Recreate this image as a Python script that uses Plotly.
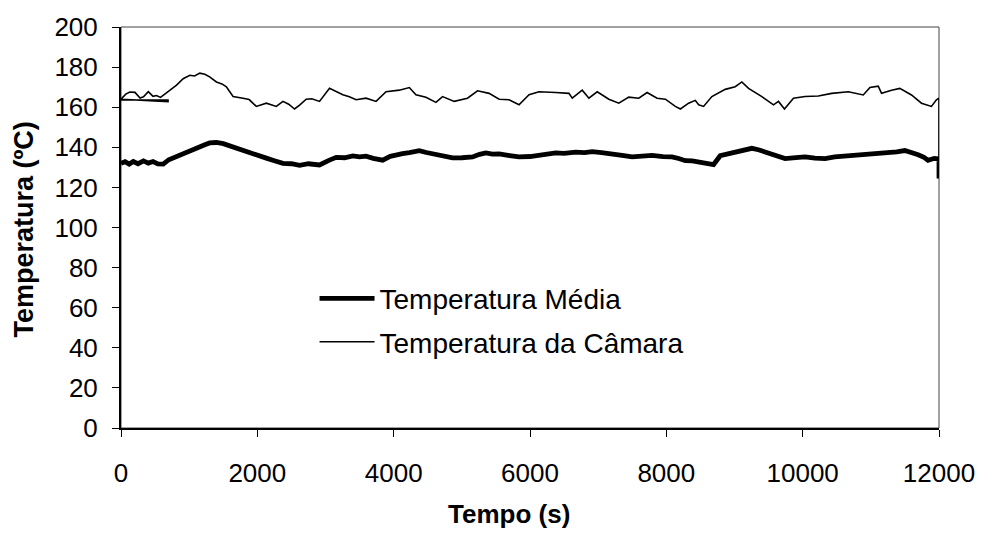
import plotly.graph_objects as go

# Temperatura da Câmara (thin line)
cam_t = [0, 690, 690, 0, 70, 130, 205, 280, 330, 400, 470, 520, 580, 645, 717, 815, 912, 1010, 1080,
         1156, 1230, 1300, 1400, 1480, 1546, 1644, 1790, 1880, 1985, 2132, 2278, 2376, 2460, 2546,
         2620, 2717, 2800, 2912, 3059, 3150, 3254, 3350, 3449, 3595, 3742, 3888, 4083, 4230, 4327,
         4473, 4620, 4717, 4888, 5083, 5230, 5400, 5547, 5693, 5839, 5986, 6132, 6376, 6571, 6620,
         6766, 6864, 6986, 7157, 7303, 7449, 7596, 7718, 7864, 7986, 8132, 8206, 8327, 8425, 8474,
         8546, 8668, 8864, 9010, 9108, 9206, 9401, 9572, 9645, 9733, 9865, 10035, 10230, 10426,
         10670, 10889, 10987, 11109, 11157, 11304, 11425, 11596, 11743, 11889, 11962, 12000, 12000]
cam_v = [163.6, 163.6, 162.8, 164.0, 166.5, 167.6, 167.4, 164.6, 165.2, 167.7, 165.4, 165.8, 164.9,
         166.6, 168.5, 171.0, 174.2, 175.9, 175.6, 177.0, 176.4, 175.1, 172.6, 171.6, 170.2, 165.3,
         164.5, 163.8, 160.4, 162.0, 160.4, 162.9, 161.5, 159.1, 161.0, 164.0, 164.2, 162.9, 169.4,
         167.8, 166.2, 165.2, 163.7, 164.5, 162.9, 167.7, 168.5, 169.8, 166.2, 165.0, 162.4, 165.3,
         162.9, 164.5, 168.2, 166.9, 164.0, 163.7, 161.2, 166.2, 167.7, 167.3, 166.9, 164.5, 168.5,
         164.5, 167.7, 164.0, 162.0, 165.0, 164.5, 167.3, 164.5, 164.0, 160.4, 159.1, 162.0, 163.4,
         161.2, 160.4, 165.3, 168.9, 170.2, 172.6, 169.4, 165.3, 161.2, 162.9, 159.1, 164.5, 165.3,
         165.6, 166.9, 167.7, 166.1, 169.8, 170.5, 166.9, 168.5, 169.4, 166.1, 162.0, 160.4, 163.7,
         164.5, 133.5]

# Temperatura Média (thick line)
med_t = [0, 60, 120, 180, 250, 330, 400, 470, 540, 620, 700, 815, 900, 1000, 1060, 1150, 1230,
         1300, 1400, 1500, 1644, 1750, 1888, 2000, 2132, 2250, 2376, 2500, 2620, 2750, 2912, 3050,
         3157, 3280, 3400, 3500, 3595, 3700, 3839, 3950, 4034, 4130, 4230, 4376, 4480, 4571, 4700,
         4864, 5000, 5157, 5260, 5352, 5450, 5547, 5700, 5839, 6000, 6132, 6250, 6376, 6500, 6669,
         6800, 6913, 7050, 7205, 7350, 7498, 7650, 7791, 7950, 8083, 8181, 8279, 8380, 8474, 8600,
         8693, 8791, 8900, 9010, 9130, 9255, 9350, 9450, 9600, 9742, 9900, 10035, 10180, 10328,
         10470, 10621, 10800, 10962, 11100, 11255, 11380, 11499, 11600, 11694, 11780, 11840, 11930,
         12000, 12000]
med_v = [132.0, 132.8, 131.6, 132.9, 131.8, 133.2, 132.1, 132.9, 131.7, 131.6, 133.8, 135.5, 136.6,
         138.5, 139.0, 140.6, 141.3, 142.2, 142.4, 141.8, 140.3, 139.0, 137.6, 136.4, 134.6, 133.3,
         132.0, 131.8, 131.0, 131.8, 131.2, 133.5, 135.0, 134.8, 135.7, 135.2, 135.6, 134.5, 133.6,
         135.5, 136.3, 136.8, 137.3, 138.3, 137.4, 136.8, 135.6, 134.7, 134.8, 135.2, 136.5, 137.2,
         136.6, 136.7, 135.9, 135.2, 135.4, 136.0, 136.8, 137.2, 137.0, 137.6, 137.3, 137.8, 137.3,
         136.8, 136.0, 135.2, 135.6, 136.0, 135.3, 135.2, 134.4, 133.3, 133.2, 132.8, 132.0, 131.4,
         135.8, 136.8, 137.6, 138.4, 139.5, 138.8, 137.6, 136.0, 134.4, 134.8, 135.2, 134.6, 134.4,
         135.2, 135.6, 135.7, 136.3, 136.6, 137.3, 137.7, 138.4, 137.6, 136.3, 135.0, 133.5, 134.5,
         134.2, 124.5]

series_names = ["Temperatura Média", "Temperatura da Câmara"]
x_ticks = [0, 2000, 4000, 6000, 8000, 10000, 12000]
x_tick_labels = ["0", "2000", "4000", "6000", "8000", "10000", "12000"]
y_ticks = [0, 20, 40, 60, 80, 100, 120, 140, 160, 180, 200]

FONT = "Liberation Sans, Arial, sans-serif"
FS = 26

fig = go.Figure()
fig.add_trace(go.Scatter(x=med_t, y=med_v, mode="lines", name=series_names[0],
                         legendgroup="a", line=dict(color="black", width=4.8)))
fig.add_trace(go.Scatter(x=cam_t, y=cam_v, mode="lines", name=series_names[1],
                         legendgroup="b", line=dict(color="black", width=1.6)))

fig.update_layout(
    width=987, height=536,
    margin=dict(l=121, r=46, t=19, b=108),
    paper_bgcolor="white", plot_bgcolor="white",
    font=dict(family=FONT, size=FS, color="black"),
    showlegend=True,
    legend=dict(x=0.2366, y=0.385, xanchor="left", yanchor="top",
                bgcolor="rgba(0,0,0,0)", borderwidth=0,
                font=dict(family=FONT, size=28, color="black"),
                tracegroupgap=4, traceorder="grouped", itemwidth=55),
    shapes=[dict(type="rect", xref="paper", yref="paper", x0=0, x1=1, y0=0, y1=1,
                 line=dict(color="#444", width=1), layer="below")],
    annotations=[
        dict(text="<b>Tempo (s)</b>", xref="paper", yref="paper", x=0.474, y=-0.215,
             xanchor="center", yanchor="middle", showarrow=False,
             font=dict(family=FONT, size=FS, color="black")),
        dict(text="<b>Temperatura (ºC)</b>", xref="paper", yref="paper", x=-0.118, y=0.496,
             xanchor="center", yanchor="middle", showarrow=False, textangle=-90,
             font=dict(family=FONT, size=27, color="black")),
    ],
)
fig.update_xaxes(range=[0, 12000], tickvals=x_ticks, ticktext=x_tick_labels, ticks="outside",
                 ticklen=7, tickcolor="black", tickwidth=1, showline=True, linecolor="black",
                 linewidth=2, showgrid=False, zeroline=False, ticklabelstandoff=14,
                 tickfont=dict(family=FONT, size=FS, color="black"))
fig.update_yaxes(range=[0, 200], tickvals=y_ticks, ticks="outside", ticklen=7,
                 tickcolor="black", tickwidth=1, showline=True, linecolor="black",
                 linewidth=2, showgrid=False, zeroline=False, ticklabelstandoff=9,
                 tickfont=dict(family=FONT, size=FS, color="black"))

fig.write_html("out.html")
